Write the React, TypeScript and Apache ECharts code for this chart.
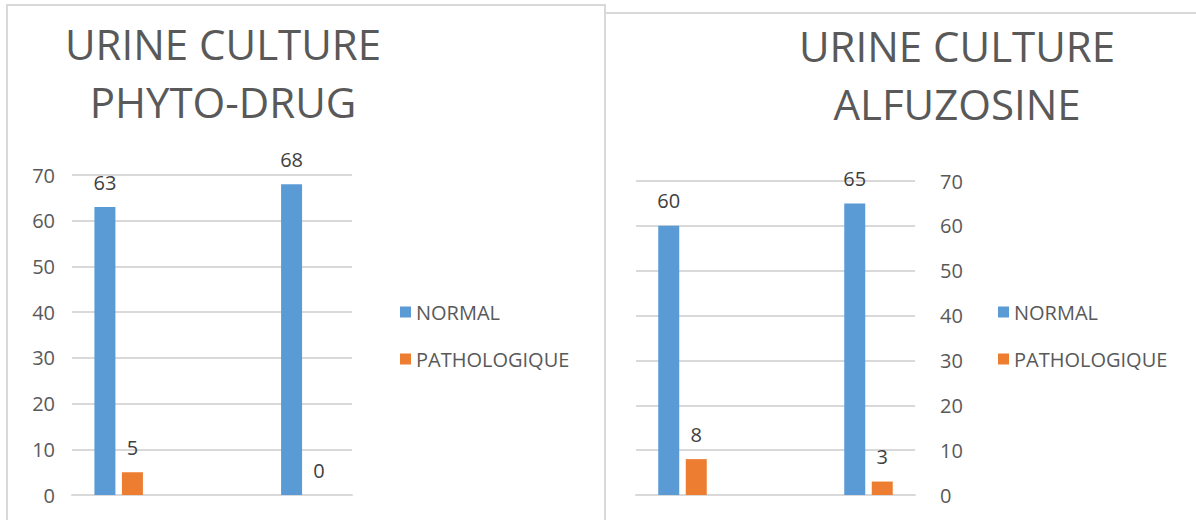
import React, { useEffect, useRef } from "react";
import * as echarts from "echarts";

// Two grouped bar charts: urine culture results per treatment arm.
const categories = ["1", "", "2"];
const seriesNames = ["NORMAL", "PATHOLOGIQUE"];
const phytoNormal = [63, null, 68];
const phytoPatho = [5, null, 0];
const alfuNormal = [60, null, 65];
const alfuPatho = [8, null, 3];
const yTicks = { min: 0, max: 70, interval: 10 };
const titleLeft = "URINE CULTURE\nPHYTO-DRUG";
const titleRight = "URINE CULTURE\nALFUZOSINE";

const BLUE = "#5b9bd5";
const ORANGE = "#ed7d31";
const GRID = "#d9d9d9";
const TEXT = "#595959";
const FONT = "'Open Sans', 'Noto Sans', sans-serif";

export default function App() {
  const ref = useRef<HTMLDivElement>(null);

  useEffect(() => {
    document.body.style.margin = "0";
    if (!ref.current) return;
    const chart = echarts.init(ref.current, undefined, { renderer: "svg" });

    const barLabel = {
      show: true,
      position: "top",
      distance: 15,
      fontSize: 20,
      color: "#404040",
      fontFamily: FONT,
    };

    const makeBars = (values: (number | null)[], name: string, color: string, idx: number) => ({
      type: "bar",
      name,
      data: values,
      xAxisIndex: idx,
      yAxisIndex: idx,
      barWidth: 21,
      barGap: "31%",
      itemStyle: { color },
      label: barLabel,
    });

    const yAxisBase = {
      type: "value",
      ...yTicks,
      splitLine: { lineStyle: { color: GRID, width: 2 } },
      axisLine: { show: false },
      axisTick: { show: false },
      axisLabel: { fontSize: 20, color: TEXT, fontFamily: FONT },
    };

    const xAxisBase = {
      type: "category",
      data: categories,
      axisLine: { show: true, lineStyle: { color: GRID, width: 2 } },
      axisTick: { show: false },
      axisLabel: { show: false },
    };

    const legendBase = {
      orient: "vertical",
      data: seriesNames,
      itemWidth: 11,
      itemHeight: 11,
      itemGap: 27,
      icon: "rect",
      textStyle: { fontSize: 20, color: TEXT, fontFamily: FONT },
    };

    const titleText = {
      fontSize: 42,
      fontWeight: "normal",
      color: TEXT,
      fontFamily: FONT,
      lineHeight: 58,
    };

    chart.setOption({
      animation: false,
      color: [BLUE, ORANGE],
      title: [
        { text: titleLeft, left: 218, top: 9, textAlign: "center", textStyle: titleText },
        { text: titleRight, left: 952, top: 11, textAlign: "center", textStyle: titleText },
      ],
      legend: [
        { ...legendBase, left: 395, top: 297 },
        { ...legendBase, left: 993, top: 297 },
      ],
      grid: [
        { left: 72, top: 175, width: 280, height: 320 },
        { left: 636, top: 181, width: 279, height: 314 },
      ],
      xAxis: [
        { ...xAxisBase, gridIndex: 0 },
        { ...xAxisBase, gridIndex: 1 },
      ],
      yAxis: [
        { ...yAxisBase, gridIndex: 0, position: "left", axisLabel: { ...yAxisBase.axisLabel, margin: 17 } },
        {
          ...yAxisBase,
          gridIndex: 1,
          position: "right",
          axisLabel: { ...yAxisBase.axisLabel, margin: 25 },
        },
      ],
      series: [
        makeBars(phytoNormal, seriesNames[0], BLUE, 0),
        makeBars(phytoPatho, seriesNames[1], ORANGE, 0),
        makeBars(alfuNormal, seriesNames[0], BLUE, 1),
        makeBars(alfuPatho, seriesNames[1], ORANGE, 1),
      ],
      graphic: [
        {
          type: "rect",
          shape: { x: 7, y: 5, width: 598, height: 530 },
          style: { fill: "none", stroke: GRID, lineWidth: 2 },
          z: -1,
        },
        {
          type: "rect",
          shape: { x: 605, y: 13, width: 600, height: 530 },
          style: { fill: "none", stroke: GRID, lineWidth: 2 },
          z: -1,
        },
      ],
    });

    return () => chart.dispose();
  }, []);

  return <div ref={ref} style={{ width: 1196, height: 520 }} />;
}
